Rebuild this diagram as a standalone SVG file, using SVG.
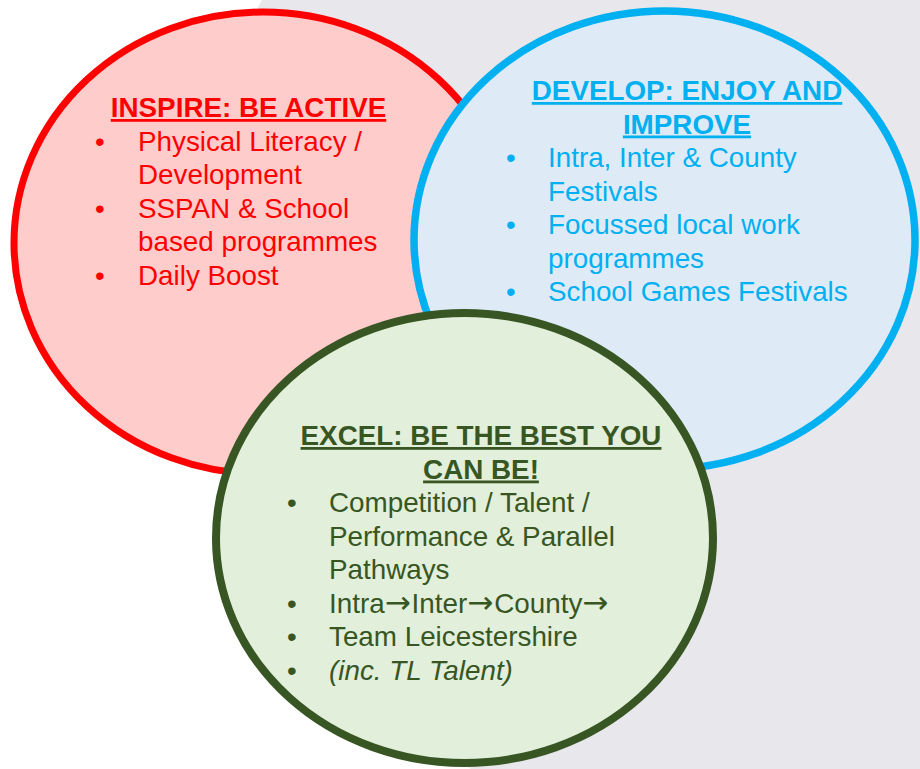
<svg xmlns="http://www.w3.org/2000/svg" width="920" height="769" viewBox="0 0 920 769">
  <style>
    text { font-family: "Liberation Sans", Arial, sans-serif; font-size: 27.8px; }
    .h { font-weight: bold; text-decoration: underline; text-anchor: middle; }
    .red { fill: #FF0000; }
    .blue { fill: #00B0F0; }
    .green { fill: #375623; }
    .it { font-style: italic; }
    .arr { font-family: "DejaVu Sans", sans-serif; font-size: 31px; }
  </style>
  <rect x="0" y="0" width="920" height="769" fill="#FFFFFF"/>
  <ellipse id="background-shape" cx="740" cy="280" rx="552" ry="560" fill="#E8E7EC"/>

  <g id="inspire">
    <ellipse cx="263" cy="243" rx="249" ry="231" fill="#FFCCCC" stroke="#FF0000" stroke-width="7"/>
    <text class="h red" x="248.5" y="117">INSPIRE: BE ACTIVE</text>
    <text class="red" x="95" y="150.5">•</text>
    <text class="red" x="138" y="150.5">Physical Literacy /</text>
    <text class="red" x="138" y="184">Development</text>
    <text class="red" x="95" y="217.5">•</text>
    <text class="red" x="138" y="217.5">SSPAN &amp; School</text>
    <text class="red" x="138" y="251">based programmes</text>
    <text class="red" x="95" y="284.5">•</text>
    <text class="red" x="138" y="284.5">Daily Boost</text>
  </g>

  <g id="develop">
    <ellipse cx="664.5" cy="240" rx="250.5" ry="229" fill="#DEEBF7" stroke="#00B0F0" stroke-width="7.5"/>
    <text class="h blue" x="687" y="100">DEVELOP: ENJOY AND</text>
    <text class="h blue" x="687" y="133.5">IMPROVE</text>
    <text class="blue" x="506" y="167">•</text>
    <text class="blue" x="548" y="167">Intra, Inter &amp; County</text>
    <text class="blue" x="548" y="200.5">Festivals</text>
    <text class="blue" x="506" y="234">•</text>
    <text class="blue" x="548" y="234">Focussed local work</text>
    <text class="blue" x="548" y="267.5">programmes</text>
    <text class="blue" x="506" y="301">•</text>
    <text class="blue" x="548" y="301">School Games Festivals</text>
  </g>

  <g id="excel">
    <ellipse cx="464.5" cy="538" rx="248.5" ry="225" fill="#E2EFDA" stroke="#375623" stroke-width="8"/>
    <text class="h green" x="481" y="445">EXCEL: BE THE BEST YOU</text>
    <text class="h green" x="481" y="478.5">CAN BE!</text>
    <text class="green" x="287" y="512">•</text>
    <text class="green" x="329" y="512">Competition / Talent /</text>
    <text class="green" x="329" y="545.5">Performance &amp; Parallel</text>
    <text class="green" x="329" y="579">Pathways</text>
    <text class="green" x="287" y="612.5">•</text>
    <text class="green" x="329" y="612.5">Intra<tspan class="arr" dx="0">→</tspan><tspan dx="1">Inter</tspan><tspan class="arr" dx="0">→</tspan><tspan dx="1">County</tspan><tspan class="arr" dx="0">→</tspan></text>
    <text class="green" x="287" y="646">•</text>
    <text class="green" x="329" y="646">Team Leicestershire</text>
    <text class="green" x="287" y="679.5">•</text>
    <text class="green it" x="329" y="679.5">(inc. TL Talent)</text>
  </g>

  <g id="connectors"/>
</svg>
